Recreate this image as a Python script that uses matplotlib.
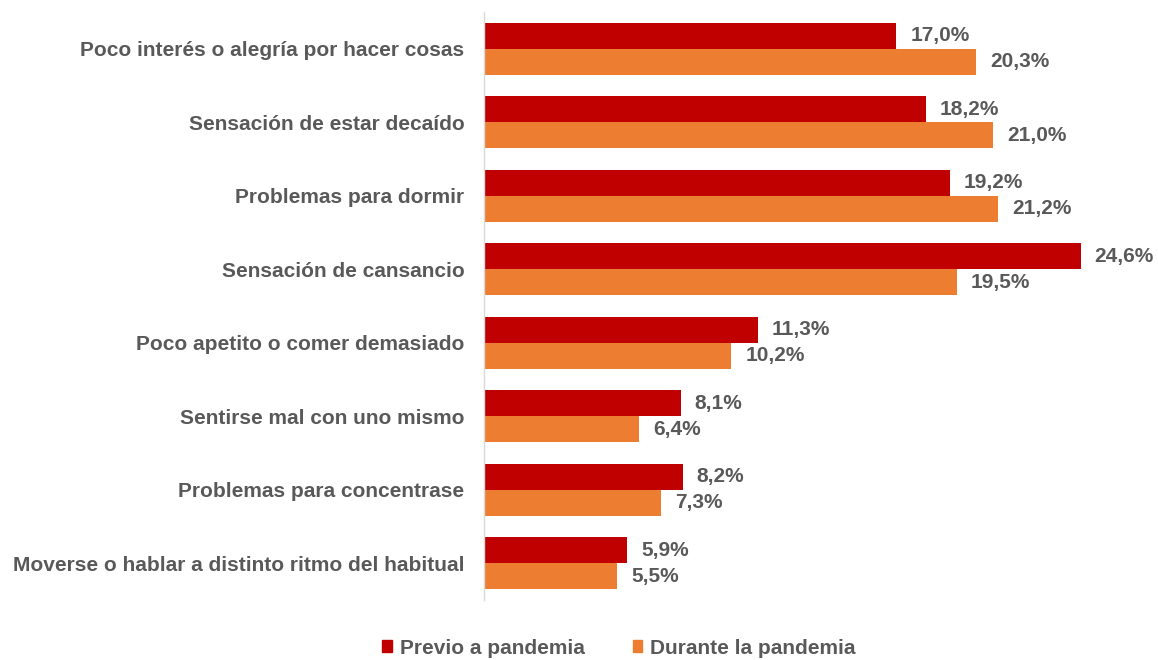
import matplotlib
matplotlib.use("Agg")
import matplotlib.pyplot as plt
from matplotlib.patches import Patch

plt.rcParams['font.family'] = ['Liberation Sans', 'DejaVu Sans']

categories = [
    "Poco interés o alegría por hacer cosas",
    "Sensación de estar decaído",
    "Problemas para dormir",
    "Sensación de cansancio",
    "Poco apetito o comer demasiado",
    "Sentirse mal con uno mismo",
    "Problemas para concentrase",
    "Moverse o hablar a distinto ritmo del habitual",
]
previo = [17.0, 18.2, 19.2, 24.6, 11.3, 8.1, 8.2, 5.9]
durante = [20.3, 21.0, 21.2, 19.5, 10.2, 6.4, 7.3, 5.5]
series_names = ["Previo a pandemia", "Durante la pandemia"]
colors = ["#C00000", "#ED7D31"]
text_color = "#595959"

W, H = 1158, 660
fig = plt.figure(figsize=(W / 100, H / 100), dpi=100)
left_px, right_px, top_px, bottom_px = 484, 1139, 12, 600
ax = fig.add_axes([left_px / W, 1 - bottom_px / H, (right_px - left_px) / W, (bottom_px - top_px) / H])

n = len(categories)
bh = 0.354
ys = list(range(n))
ax.barh([y - bh / 2 for y in ys], previo, height=bh, color=colors[0])
ax.barh([y + bh / 2 for y in ys], durante, height=bh, color=colors[1])

for y, v in zip(ys, previo):
    ax.annotate(f"{v:.1f}%".replace('.', ','), (v, y - bh / 2), xytext=(10, 0), textcoords='offset points',
                va='center', ha='left', fontsize=15, fontweight='bold', color=text_color)
for y, v in zip(ys, durante):
    ax.annotate(f"{v:.1f}%".replace('.', ','), (v, y + bh / 2), xytext=(10, 0), textcoords='offset points',
                va='center', ha='left', fontsize=15, fontweight='bold', color=text_color)

ax.set_ylim(n - 0.5, -0.5)
ax.set_xlim(0, 27)
ax.set_yticks(ys)
ax.set_yticklabels(categories, fontsize=15, fontweight='bold', color=text_color)
ax.tick_params(axis='y', length=0, pad=14)
ax.set_xticks([])
for s in ['top', 'right', 'bottom']:
    ax.spines[s].set_visible(False)
ax.spines['left'].set_color('#D9D9D9')
ax.spines['left'].set_linewidth(1)

handles = [Patch(color=c, label=l) for c, l in zip(colors, series_names)]
leg = fig.legend(handles=handles, loc='center', bbox_to_anchor=(619 / W, 1 - 648 / H), ncol=2,
                 frameon=False, handlelength=0.45, handleheight=0.45, handletextpad=0.4, columnspacing=2.3,
                 prop={'size': 15, 'weight': 'bold'})
for t in leg.get_texts():
    t.set_color(text_color)

fig.savefig("out.png", dpi=100)
